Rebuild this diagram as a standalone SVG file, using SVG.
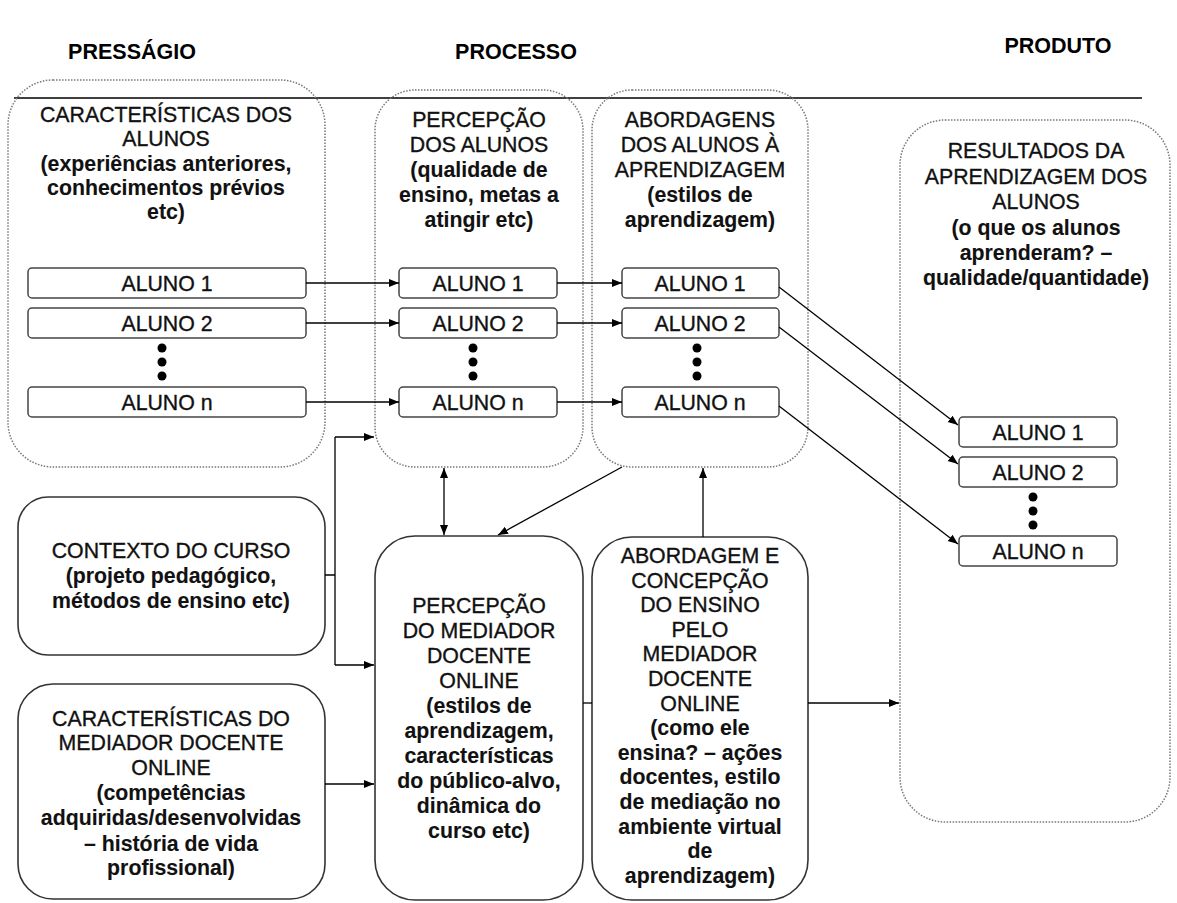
<svg xmlns="http://www.w3.org/2000/svg" width="1177" height="903" viewBox="0 0 1177 903">
  <defs>
    <marker id="ah" viewBox="0 0 10 10" refX="10" refY="5" markerWidth="10" markerHeight="10" markerUnits="userSpaceOnUse" orient="auto-start-reverse">
      <path d="M0,1 L10,5 L0,9 z" fill="#000"/>
    </marker>
    <style>
      .hd { font-family: "Liberation Sans", Arial, sans-serif; font-size: 21.5px; font-weight: bold; fill: #000; text-anchor: middle; }
      .t { font-family: "Liberation Sans", Arial, sans-serif; font-size: 21.3px; fill: #111; stroke: #111; stroke-width: 0.35; text-anchor: middle; }
      .b { font-weight: bold; stroke-width: 0.1; }
      .dot { fill: none; stroke: #777; stroke-width: 1.5; stroke-dasharray: 1.5 1.5; }
      .box { fill: #fff; stroke: #333; stroke-width: 1.6; }
      .al { fill: #fff; stroke: #444; stroke-width: 1.5; }
      .dt { fill: #000; }
      .c { fill: none; stroke: #000; stroke-width: 1.3; }
      .ar { marker-end: url(#ah); }
      .ar2 { marker-start: url(#ah); marker-end: url(#ah); }
    </style>
  </defs>

  <rect width="1177" height="903" fill="#fff"/>

  <!-- column headings -->
  <g id="headings">
    <text class="hd" x="132" y="59">PRESSÁGIO</text>
    <text class="hd" x="516" y="59">PROCESSO</text>
    <text class="hd" x="1058" y="53">PRODUTO</text>
    <path d="M14,98 H1142" stroke="#000" stroke-width="1.5"/>
  </g>

  <!-- students' characteristics -->
  <g id="caracteristicas-alunos">
    <rect class="dot" x="8" y="80" width="317" height="387" rx="45"/>
    <text class="t" x="166" y="122">CARACTERÍSTICAS DOS</text>
    <text class="t" x="166" y="146">ALUNOS</text>
    <text class="t b" x="166" y="171">(experiências anteriores,</text>
    <text class="t b" x="166" y="195">conhecimentos prévios</text>
    <text class="t b" x="166" y="219">etc)</text>
    <rect class="al" x="28" y="268" width="278" height="30" rx="4"/>
    <text class="t" x="167" y="291">ALUNO 1</text>
    <rect class="al" x="28" y="308" width="278" height="30" rx="4"/>
    <text class="t" x="167" y="331">ALUNO 2</text>
    <circle class="dt" cx="162" cy="348" r="4.5"/>
    <circle class="dt" cx="162" cy="362" r="4.5"/>
    <circle class="dt" cx="162" cy="376" r="4.5"/>
    <rect class="al" x="28" y="387" width="278" height="30" rx="4"/>
    <text class="t" x="167" y="410">ALUNO n</text>
  </g>

  <!-- students' perception -->
  <g id="percepcao-alunos">
    <rect class="dot" x="375" y="90" width="208" height="377" rx="40"/>
    <text class="t" x="479" y="127">PERCEPÇÃO</text>
    <text class="t" x="479" y="152">DOS ALUNOS</text>
    <text class="t b" x="479" y="177">(qualidade de</text>
    <text class="t b" x="479" y="202">ensino, metas a</text>
    <text class="t b" x="479" y="227">atingir etc)</text>
    <rect class="al" x="399" y="268" width="158" height="30" rx="4"/>
    <text class="t" x="478" y="291">ALUNO 1</text>
    <rect class="al" x="399" y="308" width="158" height="30" rx="4"/>
    <text class="t" x="478" y="331">ALUNO 2</text>
    <circle class="dt" cx="473" cy="348" r="4.5"/>
    <circle class="dt" cx="473" cy="362" r="4.5"/>
    <circle class="dt" cx="473" cy="376" r="4.5"/>
    <rect class="al" x="399" y="387" width="158" height="30" rx="4"/>
    <text class="t" x="478" y="410">ALUNO n</text>
  </g>

  <!-- students' approaches to learning -->
  <g id="abordagens-alunos">
    <rect class="dot" x="592" y="90" width="216" height="377" rx="40"/>
    <text class="t" x="700" y="127">ABORDAGENS</text>
    <text class="t" x="700" y="152">DOS ALUNOS À</text>
    <text class="t" x="700" y="177">APRENDIZAGEM</text>
    <text class="t b" x="700" y="202">(estilos de</text>
    <text class="t b" x="700" y="227">aprendizagem)</text>
    <rect class="al" x="622" y="268" width="157" height="30" rx="4"/>
    <text class="t" x="700" y="291">ALUNO 1</text>
    <rect class="al" x="622" y="308" width="157" height="30" rx="4"/>
    <text class="t" x="700" y="331">ALUNO 2</text>
    <circle class="dt" cx="697" cy="348" r="4.5"/>
    <circle class="dt" cx="697" cy="362" r="4.5"/>
    <circle class="dt" cx="697" cy="376" r="4.5"/>
    <rect class="al" x="622" y="387" width="157" height="30" rx="4"/>
    <text class="t" x="700" y="410">ALUNO n</text>
  </g>

  <!-- learning outcomes -->
  <g id="resultados">
    <rect class="dot" x="900" y="120" width="270" height="702" rx="45"/>
    <text class="t" x="1036" y="158">RESULTADOS DA</text>
    <text class="t" x="1036" y="184">APRENDIZAGEM DOS</text>
    <text class="t" x="1036" y="209">ALUNOS</text>
    <text class="t b" x="1036" y="235">(o que os alunos</text>
    <text class="t b" x="1036" y="260">aprenderam? –</text>
    <text class="t b" x="1036" y="285">qualidade/quantidade)</text>
    <rect class="al" x="959" y="417" width="158" height="30" rx="4"/>
    <text class="t" x="1038" y="440">ALUNO 1</text>
    <rect class="al" x="959" y="457" width="158" height="30" rx="4"/>
    <text class="t" x="1038" y="480">ALUNO 2</text>
    <circle class="dt" cx="1033" cy="497" r="4.5"/>
    <circle class="dt" cx="1033" cy="511" r="4.5"/>
    <circle class="dt" cx="1033" cy="525" r="4.5"/>
    <rect class="al" x="959" y="536" width="158" height="30" rx="4"/>
    <text class="t" x="1038" y="559">ALUNO n</text>
  </g>

  <!-- course context -->
  <g id="contexto-curso">
    <rect class="box" x="18" y="497" width="307" height="158" rx="30"/>
    <text class="t" x="171" y="558">CONTEXTO DO CURSO</text>
    <text class="t b" x="171" y="583">(projeto pedagógico,</text>
    <text class="t b" x="171" y="608">métodos de ensino etc)</text>
  </g>

  <!-- online teacher characteristics -->
  <g id="caracteristicas-mediador">
    <rect class="box" x="18" y="684" width="307" height="215" rx="35"/>
    <text class="t" x="171" y="726">CARACTERÍSTICAS DO</text>
    <text class="t" x="171" y="750">MEDIADOR DOCENTE</text>
    <text class="t" x="171" y="775">ONLINE</text>
    <text class="t b" x="171" y="800">(competências</text>
    <text class="t b" x="171" y="825">adquiridas/desenvolvidas</text>
    <text class="t b" x="171" y="851">– história de vida</text>
    <text class="t b" x="171" y="875">profissional)</text>
  </g>

  <!-- online teacher perception -->
  <g id="percepcao-mediador">
    <rect class="box" x="375" y="536" width="208" height="364" rx="40"/>
    <text class="t" x="479" y="613">PERCEPÇÃO</text>
    <text class="t" x="479" y="638">DO MEDIADOR</text>
    <text class="t" x="479" y="663">DOCENTE</text>
    <text class="t" x="479" y="688">ONLINE</text>
    <text class="t b" x="479" y="713">(estilos de</text>
    <text class="t b" x="479" y="738">aprendizagem,</text>
    <text class="t b" x="479" y="763">características</text>
    <text class="t b" x="479" y="788">do público-alvo,</text>
    <text class="t b" x="479" y="813">dinâmica do</text>
    <text class="t b" x="479" y="838">curso etc)</text>
  </g>

  <!-- online teacher approach and conception of teaching -->
  <g id="abordagem-mediador">
    <rect class="box" x="592" y="537" width="216" height="363" rx="40"/>
    <text class="t" x="700" y="563">ABORDAGEM E</text>
    <text class="t" x="700" y="588">CONCEPÇÃO</text>
    <text class="t" x="700" y="612">DO ENSINO</text>
    <text class="t" x="700" y="637">PELO</text>
    <text class="t" x="700" y="661">MEDIADOR</text>
    <text class="t" x="700" y="686">DOCENTE</text>
    <text class="t" x="700" y="711">ONLINE</text>
    <text class="t b" x="700" y="735">(como ele</text>
    <text class="t b" x="700" y="760">ensina? – ações</text>
    <text class="t b" x="700" y="784">docentes, estilo</text>
    <text class="t b" x="700" y="809">de mediação no</text>
    <text class="t b" x="700" y="834">ambiente virtual</text>
    <text class="t b" x="700" y="858">de</text>
    <text class="t b" x="700" y="883">aprendizagem)</text>
  </g>

  <!-- connectors -->
  <g id="connectors">
    <path class="c ar" d="M306,283 H399"/>
    <path class="c ar" d="M306,323 H399"/>
    <path class="c ar" d="M306,402 H399"/>
    <path class="c ar" d="M557,283 H622"/>
    <path class="c ar" d="M557,323 H622"/>
    <path class="c ar" d="M557,402 H622"/>
    <path class="c ar" d="M779,287 L958,425"/>
    <path class="c ar" d="M779,327 L958,464"/>
    <path class="c ar" d="M779,406 L958,544"/>
    <path class="c" d="M325,575 H335 M335,437 V665"/>
    <path class="c ar" d="M335,437 H374"/>
    <path class="c ar" d="M335,665 H374"/>
    <path class="c ar" d="M325,784 H374"/>
    <path class="c ar2" d="M444,468 V535"/>
    <path class="c ar" d="M622,467 L498,535"/>
    <path class="c ar" d="M703,537 V468"/>
    <path class="c ar" d="M808,703 H899"/>
    <path class="c" d="M583,703 H592"/>
  </g>
</svg>
